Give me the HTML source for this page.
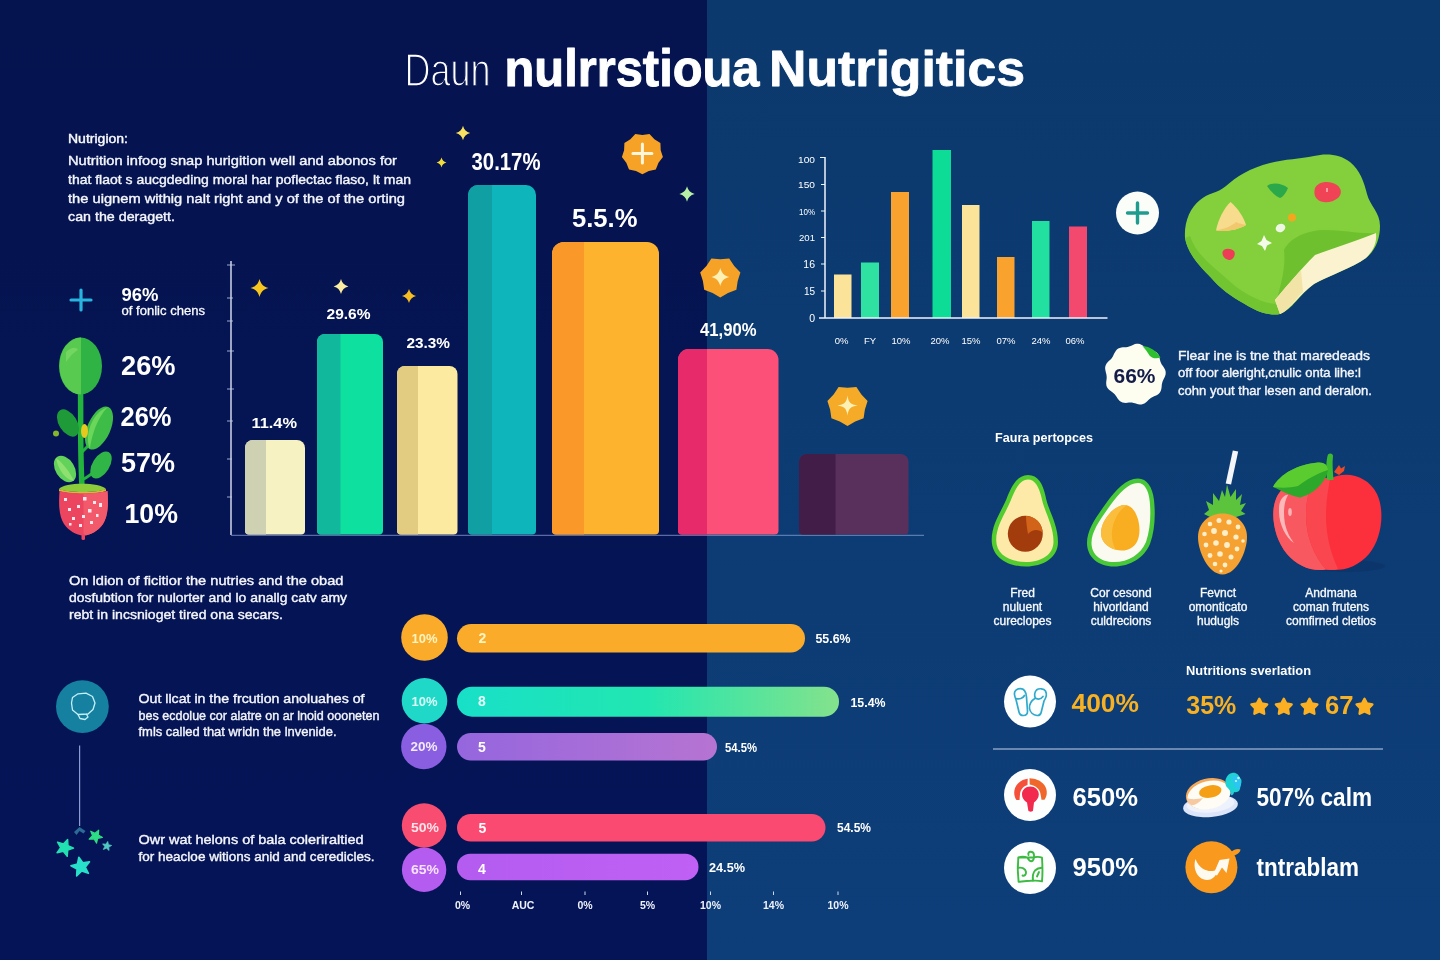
<!DOCTYPE html>
<html lang="en">
<head>
<meta charset="utf-8">
<title>Daun nulrrstioua Nutrigitics</title>
<style>
  html, body { margin: 0; padding: 0; background: #051452; }
  body { width: 1440px; height: 960px; overflow: hidden; font-family: "Liberation Sans", sans-serif; }
  svg { display: block; }
  text { font-family: "Liberation Sans", sans-serif; fill: #ffffff; }
  .b { font-weight: 700; }
  .p14 { font-size: 13.5px; fill: #f4f6fc; stroke: #f4f6fc; stroke-width: .4px; }
  .sm { font-size: 10px; fill: #dbe4f2; }
  .lab { font-size: 12px; fill: #eef2fa; stroke: #eef2fa; stroke-width: .35px; text-anchor: middle; }
</style>
</head>
<body>
<svg width="1440" height="960" viewBox="0 0 1440 960">
  <defs>
    <linearGradient id="gGreen" x1="0" y1="0" x2="1" y2="0">
      <stop offset="0" stop-color="#18e0c8"/>
      <stop offset="0.5" stop-color="#22e6b0"/>
      <stop offset="1" stop-color="#84e28c"/>
    </linearGradient>
    <linearGradient id="gPurple" x1="0" y1="0" x2="1" y2="0">
      <stop offset="0" stop-color="#9566de"/>
      <stop offset="1" stop-color="#b674d2"/>
    </linearGradient>
    <linearGradient id="gViolet" x1="0" y1="0" x2="1" y2="0">
      <stop offset="0" stop-color="#b45cf0"/>
      <stop offset="1" stop-color="#c060f4"/>
    </linearGradient>
    <linearGradient id="bgL" x1="0" y1="0" x2="0" y2="1">
      <stop offset="0" stop-color="#05144f"/>
      <stop offset="1" stop-color="#051457"/>
    </linearGradient>
    <linearGradient id="bgR" x1="0" y1="0" x2="0" y2="1">
      <stop offset="0" stop-color="#0b396d"/>
      <stop offset="1" stop-color="#0e3e79"/>
    </linearGradient>
  </defs>

  <!-- BACKGROUND -->
  <rect x="0" y="0" width="708" height="960" fill="url(#bgL)"/>
  <rect x="707" y="0" width="733" height="960" fill="url(#bgR)"/>

  <!-- TITLE -->
  <g id="title">
    <text x="404.500" y="85.500" font-size="47" textLength="86" lengthAdjust="spacingAndGlyphs" stroke="#051450" stroke-width="1.500">Daun</text>
    <text x="504.500" y="85.500" font-size="52" class="b" stroke="#fff" stroke-width="1" stroke-linejoin="round" textLength="255" lengthAdjust="spacingAndGlyphs">nulrrstioua</text>
    <text x="769" y="85.500" font-size="50" class="b" stroke="#fff" stroke-width=".8" stroke-linejoin="round" textLength="256" lengthAdjust="spacingAndGlyphs">Nutrigitics</text>
  </g>

  <!--SECTION:INTRO-->
  <g id="intro">
    <text x="68" y="143" font-size="12" stroke="#f4f6fc" stroke-width=".4" fill="#f2f5fb" textLength="60" lengthAdjust="spacingAndGlyphs">Nutrigion:</text>
    <text x="68" y="165" class="p14" textLength="329" lengthAdjust="spacingAndGlyphs">Nutrition infoog snap hurigition well and abonos for</text>
    <text x="68" y="184" class="p14" textLength="343" lengthAdjust="spacingAndGlyphs">that flaot s aucgdeding moral har poflectac flaso, lt man</text>
    <text x="68" y="203" class="p14" textLength="337" lengthAdjust="spacingAndGlyphs">the uignem withig nalt right and y of the of the orting</text>
    <text x="68" y="221" class="p14" textLength="107" lengthAdjust="spacingAndGlyphs">can the deragett.</text>
    <!-- plus icon -->
    <path d="M81 290v20M71 300h20" stroke="#27b4df" stroke-width="3.2" stroke-linecap="round" fill="none"/>
    <text x="121.500" y="301" font-size="17.500" class="b" textLength="37" lengthAdjust="spacingAndGlyphs">96%</text>
    <text x="121.500" y="314.800" font-size="12" fill="#eef2fa" stroke="#eef2fa" stroke-width=".3" textLength="83.500" lengthAdjust="spacingAndGlyphs">of fonlic chens</text>
    <text x="121" y="374.800" font-size="27.500" class="b" textLength="54.500" lengthAdjust="spacingAndGlyphs">26%</text>
    <text x="120.500" y="425.700" font-size="27.500" class="b" textLength="51" lengthAdjust="spacingAndGlyphs">26%</text>
    <text x="121" y="471.800" font-size="27.500" class="b" textLength="54" lengthAdjust="spacingAndGlyphs">57%</text>
    <text x="124.500" y="523.200" font-size="27.500" class="b" textLength="53.500" lengthAdjust="spacingAndGlyphs">10%</text>
  </g>
  <g id="plant">
    <!-- stem -->
    <path d="M80.5 388 C81 420 80 450 82 486" stroke="#22b43c" stroke-width="5.5" fill="none" stroke-linecap="round"/>
    <path d="M82 452 C88 446 92 442 96 438" stroke="#22b43c" stroke-width="3" fill="none"/>
    <path d="M82 480 C90 476 94 472 98 468" stroke="#22b43c" stroke-width="3" fill="none"/>
    <!-- top leaf -->
    <ellipse cx="80.5" cy="366" rx="21.5" ry="28.5" fill="#2fb344"/>
    <path d="M81 337.500 A21.5 28.5 0 0 0 81 394.500 Z" fill="#57ca4f"/>
    <path d="M66 352 C70 348 76 346 78 350 C74 352 70 356 66 362 Z" fill="#7fdc6a" opacity=".7"/>
    <!-- mid left leaf (dark) -->
    <ellipse cx="68" cy="423" rx="9" ry="15" transform="rotate(-32 68 423)" fill="#1f9a38"/>
    <!-- mid right leaf -->
    <ellipse cx="99" cy="428" rx="11.500" ry="23" transform="rotate(24 99 428)" fill="#3dbd48"/>
    <path d="M108 407 C100 414 92 432 90 449 C84 436 92 412 108 407 Z" fill="#6ad65a"/>
    <!-- bud and dot -->
    <ellipse cx="84.5" cy="431" rx="3.5" ry="7" fill="#e6c81e"/>
    <circle cx="56" cy="433.500" r="3" fill="#86b62c"/>
    <!-- lower leaves -->
    <ellipse cx="65" cy="469" rx="9.500" ry="14.500" transform="rotate(-32 65 469)" fill="#62d25a"/>
    <path d="M56 458 C62 462 70 472 74 481 C66 480 58 470 56 458 Z" fill="#8ee070"/>
    <ellipse cx="101" cy="465" rx="8.500" ry="15" transform="rotate(32 101 465)" fill="#2fb646"/>
    <!-- pot rim -->
    <path d="M59 489 C64 482 100 482 106 489 C100 493 66 493 59 489 Z" fill="#8ccc3a"/>
    <path d="M59 489 C70 493 96 493 106 489 L106 491 C96 495 70 495 59 491 Z" fill="#d8b83c"/>
    <!-- strawberry pot -->
    <path d="M59.500 491 C58.500 505 59 516 64 524 C69 531 76 535 83.500 535.500 C91 535 98 531 103 524 C108 516 108.500 505 107.500 491 C96 494 70 494 59.500 491 Z" fill="#ec4560"/>
    <path d="M83.500 493.500 C96 493.500 104 492 107.500 491 C108.500 505 108 516 103 524 C98 531 91 535 83.500 535.500 Z" fill="#f25a6c"/>
    <rect x="81.500" y="534" width="3.500" height="6" rx="1.500" fill="#ec4560"/>
    <g fill="#fde9ee">
      <rect x="64" y="498" width="3" height="3"/><rect x="83" y="497" width="3.500" height="3.500"/><rect x="93" y="501" width="3" height="3"/>
      <rect x="68" y="508" width="3" height="3"/><rect x="77" y="505" width="3" height="3"/><rect x="88" y="509" width="3.500" height="3.500"/><rect x="99" y="503" width="3" height="4"/>
      <rect x="72" y="517" width="3" height="3"/><rect x="82" y="515" width="3" height="3"/><rect x="96" y="514" width="2.500" height="3"/>
      <rect x="79" y="524" width="3" height="3"/><rect x="90" y="521" width="3" height="3"/><rect x="69" y="523" width="2.500" height="2.500"/>
    </g>
  </g>
  <!--SECTION:MAINCHART-->
  <g id="mainchart">
    <!-- axis -->
    <path d="M231 261V535" stroke="#dfe6f6" stroke-width="1.400" fill="none"/>
    <path d="M227 265h8M227 298h6M227 321h6M227 351h7M227 389h7M227 421h6M227 459h5M227 497h5" stroke="#c4cfe8" stroke-width="1" fill="none" opacity=".8"/>
    <path d="M231 535.300H707" stroke="#6f80ba" stroke-width="1" fill="none"/>
    <path d="M707 535.300H924" stroke="#6c8cbe" stroke-width="1" fill="none"/>
    <!-- bars -->
    <path d="M245 530.5V448a8 8 0 0 1 8-8H297a8 8 0 0 1 8 8V530.5a4 4 0 0 1-4 4H249a4 4 0 0 1-4-4Z" fill="#f7f2c2"/>
    <path d="M245 530.5V448a8 8 0 0 1 8-8H266V534.5H249a4 4 0 0 1-4-4Z" fill="#ced2b2"/>
    <path d="M317 530.5V342a8 8 0 0 1 8-8H375a8 8 0 0 1 8 8V530.5a4 4 0 0 1-4 4H321a4 4 0 0 1-4-4Z" fill="#0ee0a0"/>
    <path d="M317 530.5V342a8 8 0 0 1 8-8H340.5V534.5H321a4 4 0 0 1-4-4Z" fill="#12b89c"/>
    <path d="M397 530.5V374a8 8 0 0 1 8-8H449.5a8 8 0 0 1 8 8V530.5a4 4 0 0 1-4 4H401a4 4 0 0 1-4-4Z" fill="#fbeaa0"/>
    <path d="M397 530.5V374a8 8 0 0 1 8-8H418V534.5H401a4 4 0 0 1-4-4Z" fill="#e2cc82"/>
    <path d="M468 530.5V195a10 10 0 0 1 10-10H526a10 10 0 0 1 10 10V530.5a4 4 0 0 1-4 4H472a4 4 0 0 1-4-4Z" fill="#0eb6bc"/>
    <path d="M468 530.5V195a10 10 0 0 1 10-10H492V534.5H472a4 4 0 0 1-4-4Z" fill="#10a0a4"/>
    <path d="M552 530.5V254a12 12 0 0 1 12-12H647a12 12 0 0 1 12 12V530.5a4 4 0 0 1-4 4H556a4 4 0 0 1-4-4Z" fill="#fdb32e"/>
    <path d="M552 530.5V254a12 12 0 0 1 12-12H584V534.5H556a4 4 0 0 1-4-4Z" fill="#fa982a"/>
    <path d="M678 530.5V360a11 11 0 0 1 11-11H767.5a11 11 0 0 1 11 11V530.5a4 4 0 0 1-4 4H682a4 4 0 0 1-4-4Z" fill="#fc5079"/>
    <path d="M678 530.5V360a11 11 0 0 1 11-11H707V534.5H682a4 4 0 0 1-4-4Z" fill="#e72a6a"/>
    <path d="M799 530.5V462a8 8 0 0 1 8-8H900.5a8 8 0 0 1 8 8V530.5a4 4 0 0 1-4 4H803a4 4 0 0 1-4-4Z" fill="#59305c"/>
    <path d="M799 530.5V462a8 8 0 0 1 8-8H835.5V534.5H803a4 4 0 0 1-4-4Z" fill="#411d48"/>
    <!-- labels -->
    <text x="251.500" y="427.500" font-size="15.500" class="b" textLength="45.500" lengthAdjust="spacingAndGlyphs">11.4%</text>
    <text x="326.500" y="318.600" font-size="15.300" class="b" textLength="44" lengthAdjust="spacingAndGlyphs">29.6%</text>
    <text x="406.500" y="347.700" font-size="15.300" class="b" textLength="43.500" lengthAdjust="spacingAndGlyphs">23.3%</text>
    <text x="471.500" y="169.600" font-size="23.800" class="b" textLength="69" lengthAdjust="spacingAndGlyphs">30.17%</text>
    <text x="572" y="226.800" font-size="26" class="b" textLength="65.500" lengthAdjust="spacingAndGlyphs">5.5.%</text>
    <text x="700" y="336" font-size="17.500" class="b" textLength="56.500" lengthAdjust="spacingAndGlyphs">41,90%</text>
    <!-- sparkles -->
    <path id="spk" d="M0-9C1.300-4 4-1.300 9 0C4 1.300 1.300 4 0 9C-1.300 4-4 1.300-9 0C-4-1.300-1.300-4 0-9Z" transform="translate(259.500 288)" fill="#f7c61e"/>
    <path d="M0-9C1.300-4 4-1.300 9 0C4 1.300 1.300 4 0 9C-1.300 4-4 1.300-9 0C-4-1.300-1.300-4 0-9Z" transform="translate(341 286.500) scale(.82)" fill="#fbeea2"/>
    <path d="M0-9C1.300-4 4-1.300 9 0C4 1.300 1.300 4 0 9C-1.300 4-4 1.300-9 0C-4-1.300-1.300-4 0-9Z" transform="translate(409 296) scale(.78)" fill="#f8bd20"/>
    <path d="M0-9C1.300-4 4-1.300 9 0C4 1.300 1.300 4 0 9C-1.300 4-4 1.300-9 0C-4-1.300-1.300-4 0-9Z" transform="translate(463 133) scale(.8)" fill="#f8e260"/>
    <path d="M0-9C1.300-4 4-1.300 9 0C4 1.300 1.300 4 0 9C-1.300 4-4 1.300-9 0C-4-1.300-1.300-4 0-9Z" transform="translate(441.500 162.500) scale(.55)" fill="#f2dc3c"/>
    <path d="M0-9C1.300-4 4-1.300 9 0C4 1.300 1.300 4 0 9C-1.300 4-4 1.300-9 0C-4-1.300-1.300-4 0-9Z" transform="translate(687 194) scale(.85)" fill="#b6f0a4"/>
    <!-- orange badges -->
    <g transform="translate(642.400 153.500)">
      <path d="M0.0 20.8L-6.4 17.5L-13.4 15.9L-16.1 9.3L-20.5 3.6L-18.3 -3.2L-18.0 -10.4L-12.0 -14.2L-7.1 -19.5L-0.0 -18.6L7.1 -19.5L12.0 -14.2L18.0 -10.4L18.3 -3.2L20.5 3.6L16.1 9.3L13.4 15.9L6.4 17.5Z" fill="#f6a226"/>
      <path d="M0-9.500V9.500M-9.500 0H9.500" stroke="#fff6dc" stroke-width="3" stroke-linecap="round"/>
    </g>
    <g transform="translate(720.300 277)">
      <path d="M0.0 20.6L-7.7 16.0L-16.1 12.8L-17.4 4.0L-20.1 -4.6L-13.9 -11.1L-8.9 -18.6L-0.0 -17.8L8.9 -18.6L13.9 -11.1L20.1 -4.6L17.4 4.0L16.1 12.8L7.7 16.0Z" fill="#f6a226"/>
      <path d="M0-9C1.300-4 4-1.300 9 0C4 1.300 1.300 4 0 9C-1.300 4-4 1.300-9 0C-4-1.300-1.300-4 0-9Z" fill="#fdf0b4"/>
    </g>
    <g transform="translate(847.500 405.500)">
      <path d="M0.0 20.6L-7.7 16.0L-16.1 12.8L-17.4 4.0L-20.1 -4.6L-13.9 -11.1L-8.9 -18.6L-0.0 -17.8L8.9 -18.6L13.9 -11.1L20.1 -4.6L17.4 4.0L16.1 12.8L7.7 16.0Z" fill="#f6ab28"/>
      <path d="M0-10C1-3 3-1 10 0C3 1 1 3 0 10C-1 3-3 1-10 0C-3-1-1-3 0-10Z" fill="#fdf0b4"/>
    </g>
  </g>
  <!--SECTION:SMALLCHART-->
  <g id="smallchart">
    <!-- bars -->
    <rect x="834" y="274.500" width="17.500" height="43.500" fill="#fce39a"/>
    <rect x="861" y="262.500" width="18" height="55.500" fill="#2fe2a2"/>
    <rect x="891" y="192" width="18" height="126" fill="#f9a32e"/>
    <rect x="932.500" y="150" width="18.500" height="168" fill="#0ddc96"/>
    <rect x="962" y="205" width="17.500" height="113" fill="#fce39a"/>
    <rect x="997" y="257" width="17.500" height="61" fill="#f9a32e"/>
    <rect x="1032" y="221" width="17.500" height="97" fill="#22e0a0"/>
    <rect x="1069" y="226.500" width="18" height="91.500" fill="#f4496f"/>
    <!-- axes -->
    <path d="M825 157V318.700M819 318H1107.500" stroke="#eef3fb" stroke-width="1.500" fill="none"/>
    <path d="M820 157.500h5M821 184.500h4M821 211h4M821 237.500h4M821 264h4M821 291h4" stroke="#eef3fb" stroke-width="1.200" fill="none"/>
    <!-- y labels -->
    <g class="sm" text-anchor="end">
      <text x="815" y="162.500" font-size="9.500" textLength="17" lengthAdjust="spacingAndGlyphs">100</text>
      <text x="815" y="188" font-size="9.500" textLength="17" lengthAdjust="spacingAndGlyphs">150</text>
      <text x="815" y="214.500" font-size="9.500" textLength="16" lengthAdjust="spacingAndGlyphs">10%</text>
      <text x="815" y="241" font-size="9.500" textLength="16" lengthAdjust="spacingAndGlyphs">201</text>
      <text x="815" y="268" font-size="10.500">16</text>
      <text x="815" y="295" font-size="10">15</text>
      <text x="815" y="322" font-size="10.500">0</text>
    </g>
    <!-- x labels -->
    <g class="sm" text-anchor="middle" font-size="9.500">
      <text x="841.500" y="344" font-size="9.500">0%</text>
      <text x="870" y="344" font-size="9.500">FY</text>
      <text x="901" y="344" font-size="9.500">10%</text>
      <text x="940" y="344" font-size="9.500">20%</text>
      <text x="971" y="344" font-size="9.500">15%</text>
      <text x="1006" y="344" font-size="9.500">07%</text>
      <text x="1041" y="344" font-size="9.500">24%</text>
      <text x="1075" y="344" font-size="9.500">06%</text>
    </g>
  </g>
  <!--SECTION:SALAD-->
  <g id="salad">
    <!-- plus badge -->
    <circle cx="1137.500" cy="213" r="21.500" fill="#fbfdf8"/>
    <path d="M1137.500 203v20M1127.500 213h20" stroke="#1f9c8e" stroke-width="3.400" stroke-linecap="round" fill="none"/>
    <!-- salad blob -->
    <path d="M1185 238 C1184 222 1190 208 1200 200 C1208 193 1218 193 1226 186 C1236 177 1250 168 1270 163 C1285 159 1300 159 1314 156 C1326 153 1340 154 1350 162 C1360 170 1364 182 1367 194 C1370 206 1380 212 1380 226 C1380 238 1376 250 1366 258 C1352 268 1328 276 1314 284 C1300 294 1292 310 1280 314 C1270 316 1258 312 1248 306 C1236 299 1224 292 1214 281 C1204 270 1188 256 1185 238 Z" fill="#83d03c"/>
    <path d="M1185 238 C1188 256 1204 270 1214 281 C1224 292 1236 299 1248 306 C1258 312 1270 316 1280 314 L1277 304 C1262 304 1240 292 1226 278 C1212 266 1196 254 1190 236 Z" fill="#72c431"/>
    <!-- darker bite shading -->
    <path d="M1284 250 C1290 238 1306 230 1326 230 C1342 230 1360 234 1376 233 L1372 240 C1352 246 1332 250 1316 256 C1304 266 1290 284 1277 300 C1280 286 1286 270 1284 250 Z" fill="#6ec02e"/>
    <!-- cream slab -->
    <path d="M1275 300 C1285 288 1300 270 1315 255 C1335 248 1358 240 1376 233 C1377 242 1374 250 1366 258 C1352 268 1328 276 1314 284 C1300 294 1290 310 1280 314 Z" fill="#fbf3cf"/>
    <path d="M1275 300 C1285 288 1292 280 1301 270 L1303 292 C1294 300 1288 311 1280 314 Z" fill="#f2e3a6"/>
    <!-- toppings -->
    <path d="M1216 230.500 C1218 220 1224 208 1230.500 202 C1238 208 1244 218 1246 225 C1238 230 1226 232 1216 230.500 Z" fill="#f8dc8e"/>
    <path d="M1236 222 C1240 224 1244 224 1246 225 C1238 230 1226 232 1216 230.500 C1224 229 1232 226 1236 222 Z" fill="#f2c86e"/>
    <path d="M1267 186 C1272 182 1282 183 1288 188 C1286 193 1283 197 1280 198 C1275 196 1272 192 1270 190 Z" fill="#2aa84a"/>
    <path d="M1315 188 C1318 181 1330 180 1337 185 C1342 189 1342 194 1338 198 C1332 203 1322 204 1317 199 C1314 196 1314 192 1315 188 Z" fill="#f04456"/>
    <path d="M1327 188 v4" stroke="#fbd2d6" stroke-width="1.200"/>
    <circle cx="1292" cy="217.500" r="4" fill="#f2a81e"/>
    <ellipse cx="1280.500" cy="228" rx="5" ry="4" fill="#eef7e4" transform="rotate(-25 1280.500 228)"/>
    <path d="M1264 235 L1266.500 240 L1272 243 L1267 245.500 L1265 251 L1262 246 L1257 244 L1261.500 241 Z" fill="#f4fbe8"/>
    <path d="M1222.500 252 C1224 248 1230 248 1234 251 C1236 254 1234 259 1230 260 C1226 260 1222 257 1222.500 252 Z" fill="#ee3c56"/>
    <!-- 66% badge -->
    <path d="M1165.6 374.4L1165.1 376.0L1164.5 377.5L1163.7 379.0L1163.0 380.4L1162.5 381.8L1162.1 383.2L1161.8 384.7L1161.7 386.3L1161.5 387.9L1161.2 389.5L1160.7 391.1L1159.9 392.5L1158.8 393.7L1157.5 394.7L1156.1 395.5L1154.6 396.1L1153.1 396.8L1151.7 397.4L1150.5 398.2L1149.3 399.2L1148.2 400.3L1147.0 401.4L1145.8 402.5L1144.4 403.5L1143.0 404.1L1141.4 404.5L1139.8 404.5L1138.1 404.2L1136.5 403.8L1135.0 403.3L1133.5 402.9L1132.0 402.6L1130.5 402.6L1129.0 402.6L1127.4 402.8L1125.7 402.9L1124.1 402.8L1122.5 402.5L1121.0 401.8L1119.7 400.9L1118.6 399.7L1117.6 398.4L1116.7 397.0L1115.8 395.7L1114.9 394.5L1113.9 393.4L1112.7 392.5L1111.4 391.6L1110.0 390.6L1108.8 389.5L1107.7 388.3L1106.9 386.9L1106.4 385.4L1106.2 383.8L1106.2 382.1L1106.4 380.5L1106.6 378.9L1106.7 377.4L1106.6 375.9L1106.4 374.4L1106.0 372.9L1105.6 371.3L1105.3 369.7L1105.1 368.0L1105.3 366.4L1105.8 364.9L1106.6 363.5L1107.6 362.2L1108.8 361.0L1110.0 359.9L1111.1 358.9L1112.0 357.7L1112.8 356.5L1113.5 355.1L1114.2 353.6L1115.0 352.2L1115.9 350.8L1116.9 349.5L1118.2 348.6L1119.7 347.9L1121.3 347.5L1122.9 347.3L1124.6 347.2L1126.1 347.2L1127.6 346.9L1129.1 346.6L1130.5 346.0L1131.9 345.4L1133.4 344.7L1135.0 344.1L1136.6 343.8L1138.2 343.8L1139.8 344.1L1141.3 344.7L1142.7 345.6L1144.0 346.6L1145.3 347.5L1146.6 348.4L1147.9 349.1L1149.3 349.6L1150.8 350.1L1152.4 350.5L1154.0 351.0L1155.4 351.7L1156.8 352.6L1157.9 353.8L1158.7 355.2L1159.3 356.8L1159.7 358.4L1160.0 359.9L1160.4 361.4L1160.9 362.8L1161.6 364.2L1162.5 365.5L1163.4 366.8L1164.3 368.2L1165.0 369.6L1165.6 371.2L1165.7 372.8Z" fill="#fdfdf0"/>
    <path d="M1142.500 346.300 C1149 346 1157 351 1160.500 357.500 C1157 359 1152 358.500 1149.500 355.500 C1147.500 352 1145 349 1142.500 346.300 Z" fill="#2fc030"/>
    <text x="1113.500" y="383.300" font-size="21" class="b" style="fill:#141c48" textLength="42" lengthAdjust="spacingAndGlyphs">66%</text>
    <text x="1178" y="359.500" class="p14" textLength="192" lengthAdjust="spacingAndGlyphs">Flear ine is tne that maredeads</text>
    <text x="1178" y="377" class="p14" textLength="183" lengthAdjust="spacingAndGlyphs">off foor aleright,cnulic onta lihe:l</text>
    <text x="1178" y="394.500" class="p14" textLength="194" lengthAdjust="spacingAndGlyphs">cohn yout thar lesen and deralon.</text>
  </g>
  <!--SECTION:FRUITS-->
  <g id="fruits">
    <text x="995" y="442" font-size="13" class="b" textLength="98" lengthAdjust="spacingAndGlyphs">Faura pertopces</text>
    <!-- avocado 1 -->
    <path d="M1028 475 C1038 475 1043 484 1045.500 496 C1048 510 1058 524 1058 542 C1058 558 1043 566.500 1026 566.500 C1007 566.500 991.700 557 991.700 540 C991.700 524 1001 512 1006.500 499 C1011 487 1017 475 1028 475 Z" fill="#52cc2e"/>
    <path d="M1028 479.500 C1035 479.500 1039 487 1041.500 497.500 C1044 511 1053.500 525 1053.500 541.500 C1053.500 555 1041 562 1026 562 C1009.500 562 996.200 554.500 996.200 540 C996.200 526 1005 514 1010.500 501 C1015 490 1019.500 479.500 1028 479.500 Z" fill="#fdeaa8"/>
    <ellipse cx="1025.300" cy="533.800" rx="17.500" ry="18" fill="#a23c0c"/>
    <path d="M1026 516 C1035 516 1042.500 523 1042.800 533 C1038 528 1032 530 1028 534 C1027 528 1026 522 1026 516 Z" fill="#d2641a"/>
    <!-- avocado 2 / egg -->
    <path d="M1138 478.500 C1147 478.500 1152.500 487 1154 500 C1155.500 514 1155 530 1150 544 C1144 558 1130 566.500 1114 566.500 C1098 566.500 1087 557 1087 543 C1087 529 1097 516 1107 502 C1116 490 1126 478.500 1138 478.500 Z" fill="#48c838"/>
    <path d="M1138 483 C1144.500 483 1148.500 490 1149.700 501 C1151 514 1150.500 529 1146 542 C1140.500 554.500 1128.500 562 1114 562 C1100.500 562 1091.500 554.500 1091.500 543 C1091.500 531 1100.500 519 1110.500 505 C1119 493.500 1128 483 1138 483 Z" fill="#fafaf0"/>
    <g transform="rotate(14 1121.400 527.500)">
      <path d="M1121.400 504.500 C1131 504.500 1140.500 520 1140.500 533 C1140.500 544 1132 550.500 1121.400 550.500 C1110.800 550.500 1102.300 544 1102.300 533 C1102.300 520 1111.800 504.500 1121.400 504.500 Z" fill="#f8ae20"/>
      <path d="M1121.400 504.500 C1111.800 504.500 1102.300 520 1102.300 533 C1102.300 544 1110.800 550.500 1121.400 550.500 C1115 544 1112 534 1113 524 C1114 515 1117 509 1121.400 504.500 Z" fill="#fbbd3c"/>
    </g>
    <!-- pineapple -->
    <path d="M1235.500 451 L1228.400 484" stroke="#f4f6fa" stroke-width="5.500" stroke-linecap="butt" fill="none"/>
    <path d="M1227 484.500 L1230.500 497 L1236 489 L1236 500 L1242 494 L1240 505 L1246 503 L1241 511 L1245.600 514 L1236 517 L1210 517 L1204 514 L1209 510 L1206 501 L1213 505 L1213 493 L1219 501 L1222 490 L1225 497 Z" fill="#5cc43c"/>
    <path d="M1222.500 513.400 C1236 513.400 1247 523 1247 537 C1247 551 1237 574.400 1222.500 574.400 C1208 574.400 1198 551 1198 537 C1198 523 1209 513.400 1222.500 513.400 Z" fill="#f5a232"/>
    <g fill="#fdeec8">
      <circle cx="1210" cy="524" r="2.300"/><circle cx="1219" cy="520.500" r="2.500"/><circle cx="1229" cy="522" r="2.600"/><circle cx="1238" cy="527" r="2.400"/>
      <circle cx="1204.500" cy="534" r="2.300"/><circle cx="1214" cy="531" r="2.900"/><circle cx="1225" cy="533" r="3"/><circle cx="1236" cy="537" r="2.600"/><circle cx="1243" cy="541" r="1.800"/>
      <circle cx="1206" cy="545" r="2.400"/><circle cx="1216" cy="543" r="2.800"/><circle cx="1227" cy="545" r="2.900"/><circle cx="1237" cy="549" r="2.400"/>
      <circle cx="1210" cy="555.500" r="2.400"/><circle cx="1220" cy="554" r="2.800"/><circle cx="1231" cy="557" r="2.500"/>
      <circle cx="1215" cy="564" r="2.300"/><circle cx="1225" cy="565" r="2.400"/><circle cx="1221" cy="571" r="1.600"/>
    </g>
    <!-- apple -->
    <ellipse cx="1345" cy="566" rx="40" ry="6" fill="#0a2f62" opacity=".45"/>
    <path d="M1330 479 C1346 470 1368 476 1377 494 C1385 511 1382 538 1369 554 C1358 567 1342 572 1326 569.500 C1312 572 1297 566 1287 554 C1274 538 1270 514 1276 499 C1283 482 1306 472 1330 479 Z" fill="#fb303c"/>
    <path d="M1312 476 C1296 477 1281 486 1276 499 C1270 514 1274 538 1287 554 C1297 566 1312 572 1326 569.500 C1314 556 1306 536 1306 516 C1306 500 1309 487 1316 477 Z" fill="#f8585f"/>
    <path d="M1316 477 C1309 487 1306 500 1306 516 C1306 536 1314 556 1326 569.500 C1330 570 1334 570 1338 569 C1330 552 1326 534 1326 516 C1326 502 1328 490 1330 479 C1325 477.500 1320 476.500 1316 477 Z" fill="#fa464e"/>
    <path d="M1280 502 C1282 497 1286 494 1288 495 C1284 502 1283 512 1285 524 C1287 532 1290 538 1294 543 C1286 538 1279 524 1279 512 C1279 508 1279 505 1280 502 Z" fill="#fdb8ba"/>
    <ellipse cx="1290" cy="512" rx="1.800" ry="4" fill="#fcc" opacity=".8"/>
    <!-- apple stem and leaf -->
    <path d="M1327 480 C1326 470 1326 460 1328 454.500 C1330 452.500 1333 453.500 1333 456 C1332 464 1333 472 1333.500 480 Z" fill="#3cba30"/>
    <path d="M1334 472 l5 -7 l2 3.500 l4 -2.500 l-1 5 l-5 4 Z" fill="#ee4a28"/>
    <path d="M1273 487 C1280 474 1298 464 1318 462.500 C1324 462 1328 465 1328 470 C1326 482 1314 494 1300 497.500 C1294 497 1284 492 1273 487 Z" fill="#2ea82a"/>
    <path d="M1273 487 C1280 474 1298 464 1318 462.500 C1324 462 1328 465 1328 470 C1316 474 1306 480 1298 486 C1290 488 1282 488 1273 487 Z" fill="#5acc30"/>
    <!-- labels -->
    <g class="lab">
      <text x="1022.500" y="597">Fred</text>
      <text x="1022.500" y="611">nuluent</text>
      <text x="1022.500" y="625">cureclopes</text>
      <text x="1121" y="597">Cor cesond</text>
      <text x="1121" y="611">hivorldand</text>
      <text x="1121" y="625">culdrecions</text>
      <text x="1218" y="597">Fevnct</text>
      <text x="1218" y="611">omonticato</text>
      <text x="1218" y="625">hudugls</text>
      <text x="1331" y="597">Andmana</text>
      <text x="1331" y="611">coman frutens</text>
      <text x="1331" y="625">comfirned cletios</text>
    </g>
  </g>
  <!--SECTION:STATS-->
  <g id="stats">
    <text x="1186" y="675" font-size="13" class="b" textLength="125" lengthAdjust="spacingAndGlyphs">Nutritions sverlation</text>
    <!-- circle 1: bottles -->
    <circle cx="1030" cy="701.500" r="26" fill="#fdfefe"/>
    <g fill="none" stroke="#2faacd" stroke-width="1.700" stroke-linejoin="round" stroke-linecap="round">
      <path d="M1014.500 694.500 C1014 690.500 1017 688.700 1020.500 688.700 C1024 688.700 1026 692 1026.500 697 L1027.500 711 C1027.700 714 1026 715.500 1023.500 715.500 C1021 715.500 1019.500 714.500 1019 712 L1016 699.500 C1015 697.500 1014.700 696 1014.500 694.500 Z"/>
      <path d="M1016 698.500 C1019 699.500 1023 698.500 1024.500 695.500"/>
      <path d="M1035.500 698 C1034 696 1034.500 692 1036.500 690 C1039 688 1044 688.500 1045.500 691 C1047 694 1046 698 1044 701 L1041.500 711 C1041 714 1039.500 715.700 1037 715.500 C1033 715 1030 712 1029.500 708.500 C1029 704 1031.500 700.500 1035.500 698 Z"/>
      <path d="M1036 698.500 C1038.500 699.500 1041.500 698.500 1043 696.500"/>
    </g>
    <text x="1071.500" y="712.200" font-size="26" class="b" style="fill:#f8b122" textLength="67.500" lengthAdjust="spacingAndGlyphs">400%</text>
    <text x="1186.300" y="714.300" font-size="26" class="b" style="fill:#f8b122" textLength="50" lengthAdjust="spacingAndGlyphs">35%</text>
    <g fill="#fbaf22" stroke="#fbaf22" stroke-width="2.400" stroke-linejoin="round">
      <path id="st" d="M0.0 -8.3L2.5 -3.5L7.9 -2.6L4.1 1.3L4.9 6.7L0.0 4.3L-4.9 6.7L-4.1 1.3L-7.9 -2.6L-2.5 -3.5Z" transform="translate(1259.300 707)"/>
      <path d="M0.0 -8.3L2.5 -3.5L7.9 -2.6L4.1 1.3L4.9 6.7L0.0 4.3L-4.9 6.7L-4.1 1.3L-7.9 -2.6L-2.5 -3.5Z" transform="translate(1283.800 707)"/>
      <path d="M0.0 -8.3L2.5 -3.5L7.9 -2.6L4.1 1.3L4.9 6.7L0.0 4.3L-4.9 6.7L-4.1 1.3L-7.9 -2.6L-2.5 -3.5Z" transform="translate(1309.500 707)"/>
      <path d="M0.0 -8.3L2.5 -3.5L7.9 -2.6L4.1 1.3L4.9 6.7L0.0 4.3L-4.9 6.7L-4.1 1.3L-7.9 -2.6L-2.5 -3.5Z" transform="translate(1364.500 707)"/>
    </g>
    <text x="1325" y="714" font-size="25" class="b" style="fill:#f8b122" textLength="28.500" lengthAdjust="spacingAndGlyphs">67</text>
    <!-- divider -->
    <path d="M993 749H1383" stroke="#8aa0c6" stroke-width="1.300" fill="none"/>
    <!-- circle 2: red organ -->
    <circle cx="1030" cy="795" r="26" fill="#fdfefe"/>
    <path d="M1016.500 800 C1013 795 1013.500 788 1018 783.500 C1021 780.500 1024.500 779 1027.700 778.800 L1027.500 785 C1023.500 786 1020.500 789.500 1020 794 L1019.500 800 Z" fill="#f4503a"/>
    <path d="M1044.500 799.700 C1048 795 1047.500 788 1043 783.500 C1040 780.500 1036 778.700 1029.500 778.300 L1029.700 784.500 C1036 785.500 1040 789.500 1040.500 794 L1041.500 799.700 Z" fill="#f0672c"/>
    <path d="M1030.300 786.500 C1035 786.500 1038.800 790 1038.800 794.500 C1038.800 798 1036.500 800.500 1034 802.500 L1033 810.500 C1033 812 1028.500 812 1028.300 810.500 L1027 802.500 C1024 800.500 1022 798 1022 794.500 C1022 790 1025.600 786.500 1030.300 786.500 Z" fill="#f22a4e"/>
    <text x="1072.500" y="806" font-size="25.500" class="b" textLength="65.500" lengthAdjust="spacingAndGlyphs">650%</text>
    <!-- circle 3: puzzle -->
    <circle cx="1030" cy="868" r="26" fill="#fdfefe"/>
    <g fill="none" stroke="#3cba42" stroke-width="1.900" stroke-linejoin="round" stroke-linecap="round">
      <path d="M1018.300 857.500 C1021 856.500 1025 856.600 1027.500 857.700 C1028.500 859.500 1029.500 861.200 1031.200 861.200 C1033.500 861 1034.200 858 1034 855 C1033.800 852.500 1032 851.800 1030.500 851.800 C1029 851.800 1027.800 853 1028.500 855 M1034 857.300 C1037 856.600 1040 856.800 1042 857.700 C1042.500 865 1042.700 874 1042 881.300 C1038 880.300 1034 880.500 1030.500 880.800 C1026 881 1022 881.500 1018.600 881.800 C1017.600 874 1017.600 865 1018.300 857.500 Z"/>
      <path d="M1018.300 867.800 C1022 867 1025.500 868.500 1026 872 C1026.300 874.500 1024.500 876.300 1022.500 875.500"/>
      <path d="M1033 880.500 C1032.500 877 1033 873 1035 870.500 C1037 868.500 1039.500 867.800 1042 867.700"/>
      <path d="M1037 876.500 L1039 872"/>
    </g>
    <text x="1072.500" y="876.300" font-size="25.500" class="b" textLength="65.500" lengthAdjust="spacingAndGlyphs">950%</text>
    <!-- egg plate -->
    <g id="eggplate">
      <ellipse cx="1210.500" cy="806" rx="27.500" ry="11" fill="#dde5fa" transform="rotate(-5 1210.500 806)"/>
      <ellipse cx="1210.500" cy="804" rx="24" ry="8.500" fill="#eef2fd" transform="rotate(-5 1210.500 804)"/>
      <ellipse cx="1208" cy="793.500" rx="22.500" ry="15" fill="#f3a85a" transform="rotate(-14 1208 793.500)"/>
      <ellipse cx="1209" cy="795" rx="22" ry="14" fill="#fefcf4" transform="rotate(-14 1209 795)"/>
      <path d="M1187 798 C1192 800 1198 799 1203 798 C1199 803 1194 806 1191 805 C1188 803 1187 800 1187 798 Z" fill="#f6c9a0"/>
      <ellipse cx="1210.300" cy="791.500" rx="11.300" ry="6.200" fill="#f59f16" transform="rotate(-10 1210.300 791.500)"/>
      <path d="M1226 786 C1224 780 1227 774 1232 773 C1236 772 1239 775 1240 778 C1242 779 1242 783 1240 786 C1241 790 1238 793 1234 792 C1234 794 1232 796 1231 795 C1232 791 1228 789 1226 786 Z" fill="#1fd2d6"/>
      <path d="M1233 776 C1237 775 1240 778 1240 781 C1242 783 1241 787 1239 789 C1236 789 1234 786 1234 783 C1232 781 1232 778 1233 776 Z" fill="#2cc6f2"/>
      <circle cx="1238.500" cy="778" r="1.300" fill="#c8f6fb"/><circle cx="1236" cy="781" r="1.100" fill="#c8f6fb"/>
    </g>
    <text x="1256.500" y="805.600" font-size="25.500" class="b" textLength="115.500" lengthAdjust="spacingAndGlyphs">507% calm</text>
    <!-- orange badge -->
    <circle cx="1211.400" cy="867.200" r="26" fill="#f9991e"/>
    <path d="M1230 853 C1233 849.500 1238 848 1240.500 849.500 C1240.500 852.500 1236 855.500 1232 856 Z" fill="#f9991e"/>
    <path d="M1195.500 859 C1192.500 868 1197 879.500 1207 880 C1213 880 1217 875 1218.500 869 C1211 873.500 1200 871 1195.500 859 Z" fill="#fefaf0"/>
    <path d="M1213.500 874 L1219.500 860 L1229.500 858.500 L1226.500 873 L1222 867.500 L1217 875.500 Z" fill="#fefaf0"/>
    <text x="1256.500" y="876.300" font-size="25.500" class="b" textLength="102.500" lengthAdjust="spacingAndGlyphs">tntrablam</text>
  </g>
  <!--SECTION:HBARS-->
  <g id="hbars">
    <rect x="457" y="624" width="348" height="28.500" rx="14.250" fill="#fbab2a"/>
    <rect x="457" y="686.700" width="382" height="30" rx="15" fill="url(#gGreen)"/>
    <rect x="457" y="733" width="260" height="27.500" rx="13.750" fill="url(#gPurple)"/>
    <rect x="457" y="814" width="368.500" height="27.500" rx="13.750" fill="#fb4a72"/>
    <rect x="457" y="853.700" width="241.500" height="26.500" rx="13.250" fill="url(#gViolet)"/>
    <circle cx="424.500" cy="637.500" r="23.300" fill="#fbab2a"/>
    <circle cx="424.500" cy="700.800" r="22.800" fill="#20d8c8"/>
    <circle cx="423.800" cy="746.500" r="22.700" fill="#8a5ee0"/>
    <circle cx="424.100" cy="825.500" r="22.300" fill="#f84c70"/>
    <circle cx="424.100" cy="869.800" r="22.200" fill="#b45cf0"/>
    <g font-size="13.500" class="b">
      <text x="411.500" y="642.500" style="fill:#fdf4c0" textLength="26" lengthAdjust="spacingAndGlyphs">10%</text>
      <text x="411.500" y="706" style="fill:#d8fff8" textLength="26" lengthAdjust="spacingAndGlyphs">10%</text>
      <text x="410.500" y="750.800" style="fill:#f2eaff" textLength="27" lengthAdjust="spacingAndGlyphs">20%</text>
      <text x="411" y="831.800" style="fill:#ffe4ea" textLength="28" lengthAdjust="spacingAndGlyphs">50%</text>
      <text x="411" y="873.800" style="fill:#f6e4ff" textLength="28" lengthAdjust="spacingAndGlyphs">65%</text>
    </g>
    <g font-size="14" class="b" text-anchor="middle">
      <text x="482.500" y="643.300" style="fill:#fdf4c0">2</text>
      <text x="482" y="706" style="fill:#e6fff8">8</text>
      <text x="482" y="752">5</text>
      <text x="482.500" y="832.600">5</text>
      <text x="482" y="873.800">4</text>
    </g>
    <g font-size="12" class="b">
      <text x="815.500" y="643" textLength="35" lengthAdjust="spacingAndGlyphs">55.6%</text>
      <text x="850.500" y="707" textLength="35" lengthAdjust="spacingAndGlyphs">15.4%</text>
      <text x="725" y="752" textLength="32" lengthAdjust="spacingAndGlyphs">54.5%</text>
      <text x="837" y="832" textLength="34" lengthAdjust="spacingAndGlyphs">54.5%</text>
      <text x="709" y="871.500" textLength="36" lengthAdjust="spacingAndGlyphs">24.5%</text>
    </g>
    <path d="M460.500 891.500v3.500M521.500 891.500v3.500M585 891.500v3.500M647.500 891.500v3.500M710.500 891.500v3.500M773.500 891.500v3.500M838 891.500v3.500" stroke="#cfd9ee" stroke-width="1" fill="none"/>
    <g font-size="10.500" class="b" text-anchor="middle">
      <text x="462.500" y="908.800" style="fill:#eef2fb">0%</text>
      <text x="523" y="908.800" style="fill:#eef2fb">AUC</text>
      <text x="585" y="908.800" style="fill:#eef2fb">0%</text>
      <text x="647.500" y="908.800" style="fill:#eef2fb">5%</text>
      <text x="710.500" y="908.800" style="fill:#eef2fb">10%</text>
      <text x="773.500" y="908.800" style="fill:#eef2fb">14%</text>
      <text x="838" y="908.800" style="fill:#eef2fb">10%</text>
    </g>
  </g>
<!--SECTION:LEFTNOTES-->
  <g id="leftnotes">
    <text x="69" y="584.500" class="p14" textLength="274.500" lengthAdjust="spacingAndGlyphs">On ldion of ficitior the nutries and the obad</text>
    <text x="69" y="601.800" class="p14" textLength="278" lengthAdjust="spacingAndGlyphs">dosfubtion for nulorter and lo anallg catv amy</text>
    <text x="69" y="618.800" class="p14" textLength="214" lengthAdjust="spacingAndGlyphs">rebt in incsnioget tired ona secars.</text>
    <!-- teal circle icon -->
    <circle cx="82.400" cy="706.600" r="26.400" fill="#1680a0"/>
    <g fill="none" stroke="#c4f0f8" stroke-width="1.300" stroke-linejoin="round" stroke-linecap="round">
      <path d="M71.500 703 L72.500 697.500 L78 693.800 L86 693.200 L92.500 696.500 L95 703 L93 709.500 L88 714 L78 714.500 L72.500 710 Z"/>
      <path d="M78 714.500 L80 718.500 L85 719.500 L88 717 L86.500 714.200"/>
    </g>
    <path d="M79.600 745.500V826" stroke="#8b9cd2" stroke-width="1.200" fill="none"/>
    <path d="M74 832 l5.500 -5 l6 4 l-2 2.500 l-4 -2.500 l-3 4 Z" fill="#2a6c96"/>
    <g>
      <path d="M0-9.500L2.700-3.200L9.500-2.800L4.200 1.600L6 8.300L0 4.600L-6 8.300L-4.200 1.600L-9.500-2.800L-2.700-3.200Z" transform="translate(64.700 847.500) rotate(20) scale(.9)" fill="#22e0b2" stroke="#22e0b2" stroke-width="1.600" stroke-linejoin="round"/>
      <path d="M0-9.500L2.700-3.200L9.500-2.800L4.200 1.600L6 8.300L0 4.600L-6 8.300L-4.200 1.600L-9.500-2.800L-2.700-3.200Z" transform="translate(80.800 866.500) rotate(-12) scale(1)" fill="#28e0ca" stroke="#28e0ca" stroke-width="1.600" stroke-linejoin="round"/>
      <path d="M0-9.500L2.700-3.200L9.500-2.800L4.200 1.600L6 8.300L0 4.600L-6 8.300L-4.200 1.600L-9.500-2.800L-2.700-3.200Z" transform="translate(95.600 836) rotate(28) scale(.7)" fill="#2ede84" stroke="#2ede84" stroke-width="1.600" stroke-linejoin="round"/>
      <path d="M0-9.500L2.700-3.200L9.500-2.800L4.200 1.600L6 8.300L0 4.600L-6 8.300L-4.200 1.600L-9.500-2.800L-2.700-3.200Z" transform="translate(106.900 846) rotate(10) scale(.48)" fill="#50c8c2" stroke="#50c8c2" stroke-width="1.600" stroke-linejoin="round"/>
    </g>
    <text x="138.500" y="702.500" class="p14" textLength="226" lengthAdjust="spacingAndGlyphs">Out llcat in the frcution anoluahes of</text>
    <text x="138.500" y="719.500" class="p14" textLength="241" lengthAdjust="spacingAndGlyphs">bes ecdolue cor alatre on ar lnoid oooneten</text>
    <text x="138.500" y="735.500" class="p14" textLength="198" lengthAdjust="spacingAndGlyphs">fmls called that wridn the lnvenide.</text>
    <text x="138.500" y="843.500" class="p14" textLength="225" lengthAdjust="spacingAndGlyphs">Owr wat helons of bala coleriraltied</text>
    <text x="138.500" y="861" class="p14" textLength="236" lengthAdjust="spacingAndGlyphs">for heacloe witions anid and ceredicles.</text>
  </g>
</svg>
</body>
</html>
